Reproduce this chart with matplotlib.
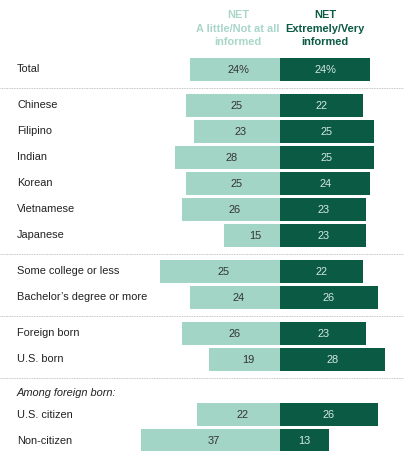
import matplotlib
matplotlib.use("Agg")
import matplotlib.pyplot as plt

# values
categories = ["Total", "Chinese", "Filipino", "Indian", "Korean", "Vietnamese",
              "Japanese", "Some college or less", "Bachelor\u2019s degree or more",
              "Foreign born", "U.S. born", "U.S. citizen", "Non-citizen"]
little = [24, 25, 23, 28, 25, 26, 15, 25, 24, 26, 19, 22, 37]
# bar lengths as drawn (the "Some college" bar is drawn longer than its label)
little_bar = [24, 25, 23, 28, 25, 26, 15, 32, 24, 26, 19, 22, 37]
extremely = [24, 22, 25, 25, 24, 23, 23, 22, 26, 23, 28, 26, 13]
group_sizes = [1, 6, 2, 2, 2]
subheads = {4: "Among foreign born:"}

LIGHT = "#a3d5c6"
DARK = "#0b5a44"
TXT = "#333333"
FONT = "Liberation Sans"
FS = 7.9

W, H = 404, 451
X0, PX = 280, 3.76            # pixel of the zero line, pixels per point
fig = plt.figure(figsize=(W / 100, H / 100), dpi=100)
ax = fig.add_axes([0, 0, 1, 1])
ax.set_xlim(-X0 / PX, (W - X0) / PX)
ax.set_ylim(H, 0)
ax.axis("off")


def px(x):
    return (x - X0) / PX


# row positions (pixel rows), groups separated by dotted rules
ys, seps, heads = [], [], []
y = 69.5
for g, n in enumerate(group_sizes):
    if g > 0:
        seps.append(y + 18)
        y += 36
        if g in subheads:
            heads.append((y - 3, subheads[g]))
            y += 19
    for i in range(n):
        if i > 0:
            y += 26
        ys.append(y)

bh = 22.5
ax.barh(ys, [-v for v in little_bar], height=bh, color=LIGHT, lw=0)
ax.barh(ys, extremely, height=bh, color=DARK, lw=0)

for i, (cat, yy) in enumerate(zip(categories, ys)):
    ax.text(px(17), yy, cat, ha="left", va="center", fontsize=FS,
            color="#222222", family=FONT)
    suf = "%" if i == 0 else ""
    ax.text(-little_bar[i] / 2 + 1, yy + 0.5, f"{little[i]}{suf}", ha="center",
            va="center", fontsize=FS, color=TXT, family=FONT)
    ax.text(extremely[i] / 2, yy + 0.5, f"{extremely[i]}{suf}", ha="center",
            va="center", fontsize=FS, color="#d5e9e1", family=FONT)

for yy, t in heads:
    ax.text(px(17), yy, t, ha="left", va="center", fontsize=FS,
            style="italic", color="#222222", family=FONT)

for s in seps:
    ax.plot([px(0), px(W)], [s, s], ls=(0, (1, 1)), lw=0.6, color="#b0b0b0")

ax.text(px(238), 28.5, "NET\nA little/Not at all\ninformed", ha="center",
        va="center", fontsize=FS, fontweight="bold", color="#a8d6c9",
        family=FONT, linespacing=1.45)
ax.text(px(325), 28.5, "NET\nExtremely/Very\ninformed", ha="center",
        va="center", fontsize=FS, fontweight="bold", color=DARK,
        family=FONT, linespacing=1.45)

fig.savefig("out.png", dpi=100)
